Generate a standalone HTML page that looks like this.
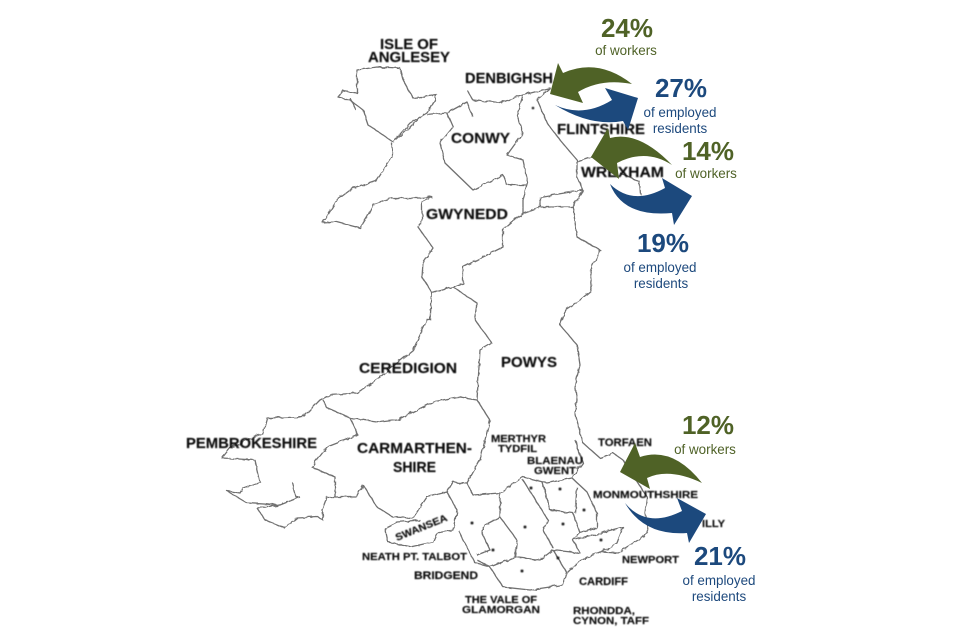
<!DOCTYPE html>
<html>
<head>
<meta charset="utf-8">
<style>
html,body{margin:0;padding:0;background:#fff;width:960px;height:640px;overflow:hidden}
svg{display:block}
.m text{font-family:"Liberation Sans",sans-serif;font-weight:bold;fill:#111;stroke:#111;stroke-width:.15}
.g{fill:#4f6228}
.b{fill:#1f497d}
.p{font-family:"Liberation Sans",sans-serif;font-weight:bold;font-size:26px;text-anchor:middle}
.s{font-family:"Liberation Sans",sans-serif;font-size:13.4px;text-anchor:middle}
</style>
</head>
<body>
<svg width="960" height="640" viewBox="0 0 960 640" xmlns="http://www.w3.org/2000/svg">
<defs>
<filter id="w" x="0" y="0" width="100%" height="100%" filterUnits="userSpaceOnUse">
<feTurbulence type="fractalNoise" baseFrequency=".16" numOctaves="2" seed="4"/>
<feDisplacementMap in="SourceGraphic" scale="3.5"/>
<feGaussianBlur stdDeviation=".35"/>
</filter>
<filter id="t"><feGaussianBlur stdDeviation=".4"/></filter>
<filter id="u" x="0" y="0" width="100%" height="100%" filterUnits="userSpaceOnUse"><feGaussianBlur stdDeviation=".25"/></filter>
</defs>
<g fill="none" stroke="#707070" stroke-width="1.3" stroke-linejoin="round" filter="url(#w)">
<path d="M357 70L377 67L400 68L403 80L413 98L437 95L427 113L410 123L393 142L380 133L368 125L363 110L350 100L338 97L343 91L357 93Z"/>
<path d="M350 98L356 110M424 114L396 140"/>
<path d="M392 143L392 157L377 180L353 188L337 200L323 223L337 222L360 228L367 217L373 205L393 198L420 198L432 197L422 202L422 220L418 227L433 248L423 263L422 277L432 293L430 320L427 320L413 350L380 377L357 393L330 395L320 400L303 417L267 418L263 433L230 448L222 458L255 460L260 482L243 488L240 493L227 491L247 503L280 505L300 497M257 508L265 520L285 528L297 518L318 517L323 520L322 510L327 497L357 497L363 485L377 507L393 517L413 518L427 497L447 492L457 510L453 530L437 533L433 542L410 547L388 542L385 528L397 522L420 520"/>
<path d="M280 505L257 508M292 482L296 497L300 497"/>
<path d="M458 530L475 563L490 567L503 587L530 590L563 585L567 573L580 560L600 552L617 553L643 537L648 530L645 513L647 497L623 460L613 453L600 458L583 443L575 413L577 400L575 385L580 365L577 345L560 325L565 310L580 300L592 290L590 270L600 250L577 237L573 207L540 207L540 197L583 190L577 177L577 160L560 140L547 123L537 100L550 88L523 95L500 103L473 100L467 90"/>
<path d="M427 115L447 113L467 102L473 117M447 113L453 127L440 143L445 163L473 190L503 175L507 185L527 185"/>
<path d="M523 95L517 115L523 133L507 155L523 160L528 183L523 200L523 213L540 207M523 213L503 230L503 247L463 267L463 283L453 287L432 293M453 287L477 303L477 307L475 320L492 343L480 350L477 400L490 420L480 460L467 483L453 482L447 492"/>
<path d="M477 400L457 397L433 402L397 420L380 422L350 418L327 408L323 400M350 418L358 435L327 447L317 460L312 467L335 477L335 497"/>
<path d="M573 207L583 190M577 162L592 157M620 173L640 182L641 195M467 483L473 495L500 493L523 477L547 483L572 478L583 463L575 440"/>
<path d="M500 493L500 517L517 540L515 557L490 567L477 560M500 517L485 525L482 533L490 550L477 555M515 557L540 560L553 550L580 553L573 540L623 527L617 543L600 553M553 550L567 573"/>
<path d="M523 480L548 520L543 530L553 548M542 482L550 510L573 513L580 533L573 540M572 478L587 492L597 513L597 528L580 533M577 487L575 513"/>
</g>
<g fill="#222" filter="url(#t)">
<circle cx="533" cy="108" r="1.3"/><circle cx="472" cy="523" r="1.5"/><circle cx="493" cy="550" r="1.5"/><circle cx="525" cy="527" r="1.5"/><circle cx="531" cy="488" r="1.5"/><circle cx="560" cy="489" r="1.5"/><circle cx="563" cy="524" r="1.5"/><circle cx="584" cy="510" r="1.5"/><circle cx="522" cy="571" r="1.5"/><circle cx="558" cy="558" r="1.5"/><circle cx="601" cy="540" r="1.5"/>
</g>
<g class="m" filter="url(#t)">
<text x="380" y="49" font-size="14.5" textLength="58" lengthAdjust="spacingAndGlyphs">ISLE OF</text>
<text x="368" y="62" font-size="14.5" textLength="82" lengthAdjust="spacingAndGlyphs">ANGLESEY</text>
<text x="465" y="83" font-size="14.5" textLength="88" lengthAdjust="spacingAndGlyphs">DENBIGHSH</text>
<text x="451" y="143" font-size="14.5" textLength="59" lengthAdjust="spacingAndGlyphs">CONWY</text>
<text x="557" y="134" font-size="14.5" textLength="88" lengthAdjust="spacingAndGlyphs">FLINTSHIRE</text>
<text x="581" y="177" font-size="14.5" textLength="83" lengthAdjust="spacingAndGlyphs">WREXHAM</text>
<text x="426" y="219" font-size="14.5" textLength="82" lengthAdjust="spacingAndGlyphs">GWYNEDD</text>
<text x="359" y="373" font-size="14.5" textLength="98" lengthAdjust="spacingAndGlyphs">CEREDIGION</text>
<text x="501" y="367" font-size="14.5" textLength="56" lengthAdjust="spacingAndGlyphs">POWYS</text>
<text x="186" y="448" font-size="14.5" textLength="131" lengthAdjust="spacingAndGlyphs">PEMBROKESHIRE</text>
<text x="357" y="453" font-size="14.5" textLength="115" lengthAdjust="spacingAndGlyphs">CARMARTHEN-</text>
<text x="393" y="472" font-size="14.5" textLength="43" lengthAdjust="spacingAndGlyphs">SHIRE</text>
<text x="491" y="442" font-size="10" textLength="55" lengthAdjust="spacingAndGlyphs">MERTHYR</text>
<text x="498" y="452" font-size="10" textLength="39" lengthAdjust="spacingAndGlyphs">TYDFIL</text>
<text x="527" y="464" font-size="10" textLength="56" lengthAdjust="spacingAndGlyphs">BLAENAU</text>
<text x="534" y="474" font-size="10" textLength="42" lengthAdjust="spacingAndGlyphs">GWENT</text>
<text x="598" y="446" font-size="11" textLength="54" lengthAdjust="spacingAndGlyphs">TORFAEN</text>
<text x="593" y="498" font-size="10.5" textLength="105" lengthAdjust="spacingAndGlyphs">MONMOUTHSHIRE</text>
<text x="702" y="527" font-size="10.5" textLength="23" lengthAdjust="spacingAndGlyphs">ILLY</text>
<text x="622" y="563" font-size="10.5" textLength="57" lengthAdjust="spacingAndGlyphs">NEWPORT</text>
<text x="579" y="585" font-size="11" textLength="49" lengthAdjust="spacingAndGlyphs">CARDIFF</text>
<text x="573" y="614" font-size="10.5" textLength="62" lengthAdjust="spacingAndGlyphs">RHONDDA,</text>
<text x="573" y="624" font-size="10.5" textLength="76" lengthAdjust="spacingAndGlyphs">CYNON, TAFF</text>
<text x="465" y="603" font-size="10.5" textLength="72" lengthAdjust="spacingAndGlyphs">THE VALE OF</text>
<text x="462" y="613" font-size="10.5" textLength="78" lengthAdjust="spacingAndGlyphs">GLAMORGAN</text>
<text x="414" y="579" font-size="11" textLength="64" lengthAdjust="spacingAndGlyphs">BRIDGEND</text>
<text x="362" y="560" font-size="10" textLength="105" lengthAdjust="spacingAndGlyphs">NEATH PT. TALBOT</text>
<text x="0" y="0" font-size="10" textLength="55" lengthAdjust="spacingAndGlyphs" transform="translate(397 541) rotate(-22)">SWANSEA</text>
</g>
<g filter="url(#u)">
<path class="g" d="M550 94L558 63L563 73Q598 57.5 632 84Q601 78 578 92L583 103Z"/>
<path class="b" d="M555 105Q583 118 612 100L605 88L638 98L628 130L623 121Q591 127 555 105Z"/>
<path class="g" d="M591 157L608 128L610 138Q639 130.5 672 165Q646 148 617 163L619 179Z"/>
<path class="b" d="M610 184Q632.500 206 665 188L662 178L692 196L674 225L672 213Q623 217.500 610 184Z"/>
<path class="g" d="M620 472L635 443L640 457Q673 446 702 483Q669.500 467.500 647 478L650 489Z"/>
<path class="b" d="M625 503Q646.500 529 682 511L677 498L706 514L689 543L687 533Q644 536 625 503Z"/>
<text class="p g" x="627" y="37">24%</text>
<text class="s g" x="626" y="55">of workers</text>
<text class="p g" x="708" y="160">14%</text>
<text class="s g" x="706" y="178">of workers</text>
<text class="p g" x="708" y="434">12%</text>
<text class="s g" x="705" y="454">of workers</text>
<text class="p b" x="681" y="97">27%</text>
<text class="s b" x="680" y="117">of employed</text>
<text class="s b" x="680" y="133">residents</text>
<text class="p b" x="663" y="252">19%</text>
<text class="s b" x="660" y="272">of employed</text>
<text class="s b" x="661" y="288">residents</text>
<text class="p b" x="720" y="565">21%</text>
<text class="s b" x="719" y="585">of employed</text>
<text class="s b" x="719" y="601">residents</text>
</g>
</svg>
</body>
</html>
